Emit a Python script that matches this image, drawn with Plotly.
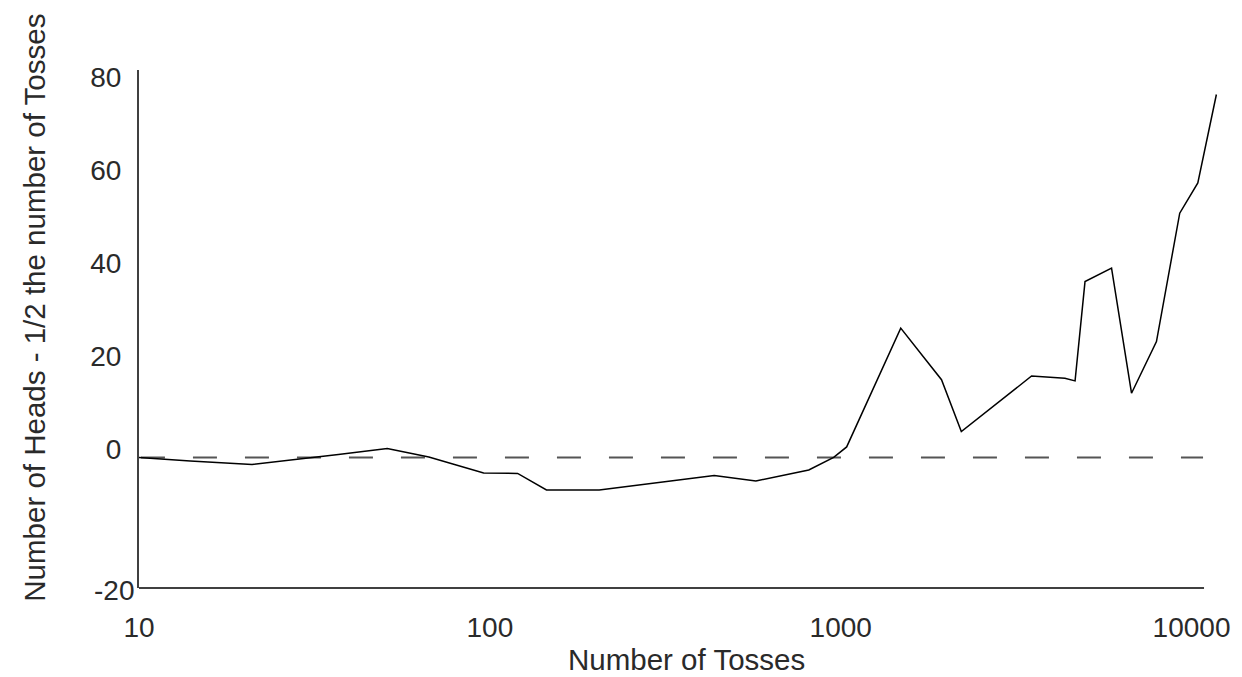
import plotly.graph_objects as go

# Data
tosses = [10, 12, 14, 21, 29, 37, 51, 67, 96, 120, 145, 205, 436, 573, 811, 955,
          1040, 1483, 1747, 1938, 2207, 3500, 4355, 4656, 4970, 5915, 6744, 7943,
          9254, 10420, 11770]
heads_minus_half = [0, -0.43, -0.75, -1.5, -0.32, 0.65, 1.94, 0.1, -3.33, -3.44, -6.99,
                    -6.99, -3.87, -5.05, -2.69, 0, 2.26, 27.8, 21.0, 16.7, 5.55, 17.5,
                    17.0, 16.45, 37.8, 40.7, 13.8, 24.9, 52.5, 59.0, 78.0]

x_tick_vals = [10, 100, 1000, 10000]
x_tick_text = ["10", "100", "1000", "10000"]
y_tick_vals = [0, 20, 40, 60, 80]
y_tick_text = ["0", "20", "40", "60", "80"]
y_bottom_label = "-20"

x_title = "Number of Tosses"
y_title = "Number of Heads - 1/2 the number of Tosses"

FONT = "Liberation Sans, Arial, sans-serif"
TXT = "#2a2a2a"
AX = "#404040"

Y_MIN, Y_MAX = -28.06, 83.27

fig = go.Figure()
fig.add_trace(go.Scatter(
    x=tosses, y=heads_minus_half, mode="lines",
    line=dict(color="black", width=1.5), showlegend=False, hoverinfo="skip"))

fig.update_layout(
    width=1242, height=677,
    margin=dict(l=139, r=18, t=70, b=89, pad=0),
    paper_bgcolor="white", plot_bgcolor="white",
    font=dict(family=FONT, size=28, color=TXT),
    xaxis=dict(type="log", range=[1, 4.0868], showgrid=False, zeroline=False,
               showline=False, ticks="", tickvals=x_tick_vals, ticktext=x_tick_text,
               ticklabelstandoff=20, tickfont=dict(size=28, color=TXT)),
    yaxis=dict(range=[Y_MIN, Y_MAX], showgrid=False, zeroline=False,
               showline=True, linecolor=AX, linewidth=2, ticks="",
               tickvals=y_tick_vals, ticktext=y_tick_text,
               ticklabelstandoff=10, ticklabelshift=-8,
               tickfont=dict(size=28, color=TXT)),
    shapes=[
        dict(type="line", xref="paper", yref="paper", x0=0, x1=0.9834, y0=0, y1=0,
             line=dict(color=AX, width=2), layer="above"),
        dict(type="line", xref="paper", yref="y", x0=0.0018, x1=0.9825, y0=0, y1=0,
             line=dict(color="#555555", width=2, dash="24px,28px"), layer="below"),
    ],
    annotations=[
        dict(text=y_bottom_label, xref="paper", yref="paper", x=0, y=-(590 - 588) / 518,
             xanchor="right", yanchor="middle", xshift=-3, showarrow=False,
             font=dict(size=28, color=TXT)),
        dict(text=x_title, xref="paper", yref="paper", x=(687.5 - 139) / 1085,
             y=-(659 - 588) / 518, xanchor="center", yanchor="middle",
             showarrow=False, font=dict(size=29.5, color=TXT)),
        dict(text=y_title, xref="paper", yref="paper", x=(34 - 139) / 1085,
             y=(588 - 307.5) / 518, xanchor="center", yanchor="middle",
             textangle=-90, showarrow=False, font=dict(size=29.5, color=TXT)),
    ],
)

fig.write_html("out.html")
